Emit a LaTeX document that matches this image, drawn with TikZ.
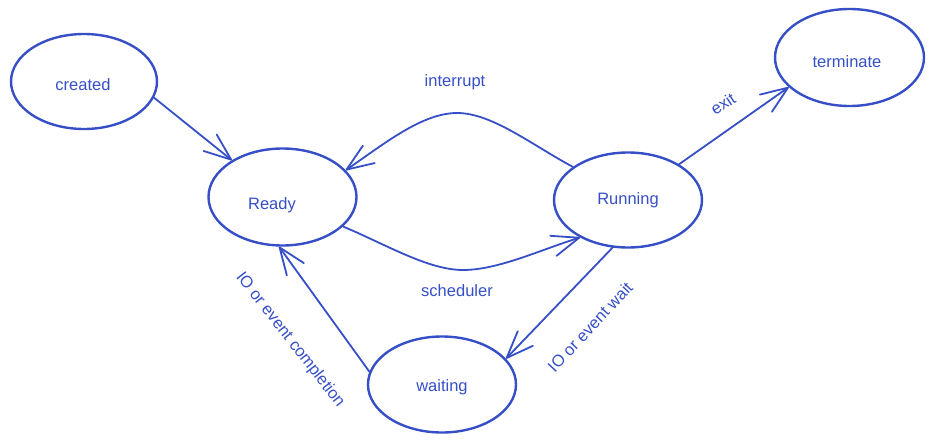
\documentclass[tikz,border=0pt]{standalone}
\usepackage{fontspec}
\setmainfont{Liberation Sans}
\usetikzlibrary{shapes.geometric,arrows.meta}
\definecolor{exblue}{HTML}{364FC7}
\begin{document}
\begin{tikzpicture}[x=1pt,y=-1pt,
  state/.style={ellipse, draw=exblue, line width=2.4pt, inner sep=0pt},
  lbl/.style={text=exblue, inner sep=0pt, font=\fontsize{16.5}{20}\selectfont},
  conn/.style={draw=exblue, line width=1.8pt, line cap=round,
    -{Straight Barb[length=27pt,width=21pt,line cap=round,line join=round]}}
]
\useasboundingbox (0,0) rectangle (934,444);
% states
\node[state, minimum width=146pt, minimum height=95pt] (created) at (84,81.5) {};
\node[state, minimum width=148pt, minimum height=97pt] (ready) at (282.5,197) {};
\node[state, minimum width=148pt, minimum height=95pt] (run) at (628,200) {};
\node[state, minimum width=149pt, minimum height=97pt] (term) at (849.5,57.5) {};
\node[state, minimum width=148pt, minimum height=96pt] (wait) at (442,384.5) {};
% state texts
\node[lbl] (tcreated) at (83,85) {created};
\node[lbl] (tready) at (272,205) {Ready};
\node[lbl] (trun) at (628,200) {Running};
\node[lbl] (tterm) at (847,62) {terminate};
\node[lbl] (twait) at (442,387) {waiting};
% connectors
\coordinate (itop) at (457,113);
\coordinate (sbot) at (463,270);
\draw[conn] (created.-13) -- (ready.144);
\draw[conn] (run.149) .. controls (532,145) and (492,113) .. (itop)
  .. controls (422,113) and (384,144) .. (ready.23);
\draw[conn] (ready.-26) .. controls (385,244) and (428,270) .. (sbot)
  .. controls (498,270) and (540,250) .. (run.218);
\draw[conn] (run.35) -- (term.206);
\draw[conn] (run.252) -- (wait.22);
\draw[conn] (wait.170) -- (ready.266);
% connector labels
\node[lbl] (linterrupt) at (455,82) {interrupt};
\node[lbl] (lsched) at (457,291) {scheduler};
\node[lbl, rotate=33] (lexit) at (723,104) {exit};
\node[lbl, rotate=47] (lwait) at (590,327) {IO or event wait};
\node[lbl, rotate=-52] (lcompl) at (290,340) {IO or event completion};
\end{tikzpicture}
\end{document}
